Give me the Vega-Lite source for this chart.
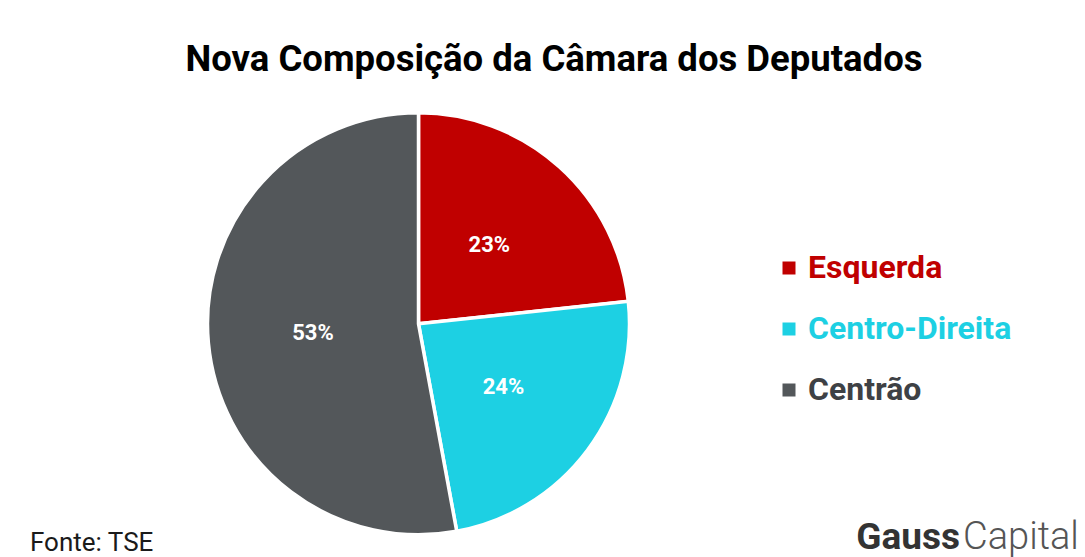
{
  "$schema": "https://vega.github.io/schema/vega-lite/v6.json",
  "width": 1085,
  "height": 557,
  "autosize": {"type": "fit", "contains": "padding"},
  "padding": {"left": 10, "top": 13, "right": 0, "bottom": 0},
  "background": "#ffffff",
  "config": {
    "view": {"fill": "#f2f2f2", "stroke": null},
    "font": "Roboto"
  },
  "layer": [
    {
      "data": {"values": [
        {"grupo": "Esquerda", "valor": 0.233, "ordem": 1},
        {"grupo": "Centro-Direita", "valor": 0.238, "ordem": 2},
        {"grupo": "Centrão", "valor": 0.529, "ordem": 3}
      ]},
      "layer": [
        {
          "mark": {"type": "arc", "x": 408.5, "y": 310.8, "outerRadius": 211, "stroke": "#ffffff", "strokeWidth": 3.5},
          "encoding": {
            "theta": {"field": "valor", "type": "quantitative", "stack": true},
            "order": {"field": "ordem", "type": "quantitative"},
            "color": {
              "field": "grupo", "type": "nominal",
              "scale": {"domain": ["Esquerda", "Centro-Direita", "Centrão"], "range": ["#c00000", "#1dd0e3", "#53575a"]},
              "legend": {
                "title": null,
                "orient": "none",
                "legendX": 763,
                "legendY": 239,
                "padding": 0,
                "symbolType": "square",
                "symbolSize": 169,
                "symbolStrokeWidth": 0,
                "labelFontSize": 32,
                "labelFont": "Roboto",
                "labelFontWeight": "bold",
                "labelOffset": 3,
                "rowPadding": 29,
                "labelLimit": 400,
                "labelColor": {"expr": "datum.value === 'Centrão' ? '#3e4145' : scale('color', datum.value)"}
              }
            }
          }
        },
        {
          "mark": {"type": "text", "x": 408.5, "y": 310.8, "radius": 106, "fontSize": 22, "fontWeight": "bold", "fill": "#ffffff", "align": "center", "baseline": "middle"},
          "encoding": {
            "theta": {"field": "valor", "type": "quantitative", "stack": true},
            "order": {"field": "ordem", "type": "quantitative"},
            "text": {"field": "valor", "type": "quantitative", "format": ".0%"}
          }
        }
      ]
    },
    {
      "data": {"values": [{"t": "Nova Composição da Câmara dos Deputados"}]},
      "mark": {"type": "text", "x": 544, "y": 58, "fontSize": 36.5, "fontWeight": "bold", "fill": "#000000", "align": "center", "baseline": "alphabetic"},
      "encoding": {"text": {"field": "t", "type": "nominal"}}
    },
    {
      "data": {"values": [{"t": "Fonte: TSE"}]},
      "mark": {"type": "text", "x": 20, "y": 538, "fontSize": 26, "fill": "#1a1a1a", "align": "left", "baseline": "alphabetic"},
      "encoding": {"text": {"field": "t", "type": "nominal"}}
    },
    {
      "data": {"values": [{"t": "Gauss"}]},
      "mark": {"type": "text", "x": 950, "y": 536, "fontSize": 37, "fontWeight": "bold", "fill": "#333333", "align": "right", "baseline": "alphabetic", "letterSpacing": -1},
      "encoding": {"text": {"field": "t", "type": "nominal"}}
    },
    {
      "data": {"values": [{"t": "Capital"}]},
      "mark": {"type": "text", "x": 953, "y": 536, "fontSize": 38, "fontWeight": 300, "fill": "#555555", "align": "left", "baseline": "alphabetic"},
      "encoding": {"text": {"field": "t", "type": "nominal"}}
    }
  ]
}
